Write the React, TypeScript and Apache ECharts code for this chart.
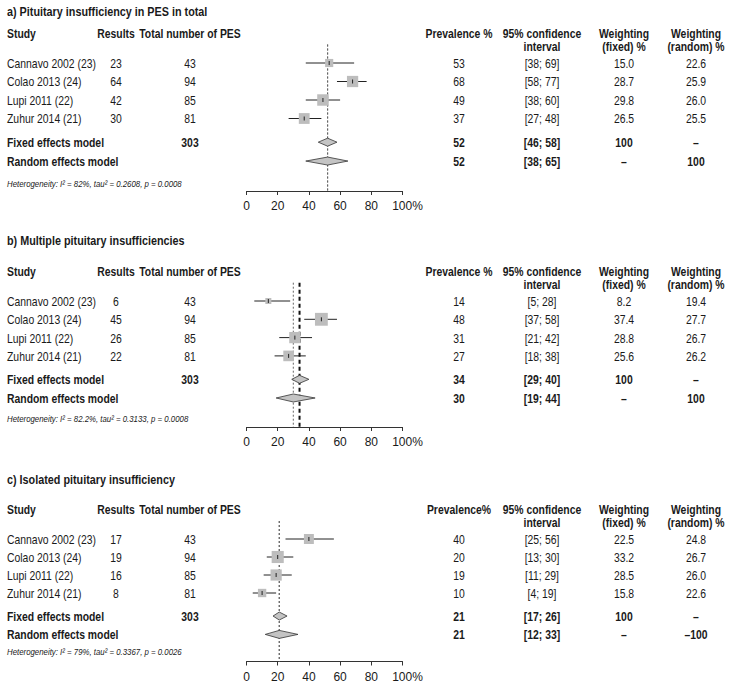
import React, { useEffect, useRef } from "react";
import * as echarts from "echarts";

// ---------- data ----------
const studies = ["Cannavo 2002 (23)", "Colao 2013 (24)", "Lupi 2011 (22)", "Zuhur 2014 (21)"];
const totals = [43, 94, 85, 81];
const totalSum = 303;
const tickValues = [0, 20, 40, 60, 80, 100];

// panel a
const titleA = "a) Pituitary insufficiency in PES in total";
const resultsA = [23, 64, 42, 30];
const prevA = [53, 68, 49, 37];
const lowA = [38, 58, 38, 27];
const highA = [69, 77, 60, 48];
const wFixedA = ["15.0", "28.7", "29.8", "26.5"];
const wRandomA = ["22.6", "25.9", "26.0", "25.5"];
const fixedA = [52, 46, 58];
const randomA = [52, 38, 65];
const randomWA = "100";
const hetA = "Heterogeneity: I² = 82%, tau² = 0.2608, p = 0.0008";
const prevHeadA = "Prevalence %";

// panel b
const titleB = "b) Multiple pituitary insufficiencies";
const resultsB = [6, 45, 26, 22];
const prevB = [14, 48, 31, 27];
const lowB = [5, 37, 21, 18];
const highB = [28, 58, 42, 38];
const wFixedB = ["8.2", "37.4", "28.8", "25.6"];
const wRandomB = ["19.4", "27.7", "26.7", "26.2"];
const fixedB = [34, 29, 40];
const randomB = [30, 19, 44];
const randomWB = "100";
const hetB = "Heterogeneity: I² = 82.2%, tau² = 0.3133, p = 0.0008";
const prevHeadB = "Prevalence %";

// panel c
const titleC = "c) Isolated pituitary insufficiency";
const resultsC = [17, 19, 16, 8];
const prevC = [40, 20, 19, 10];
const lowC = [25, 13, 11, 4];
const highC = [56, 30, 29, 19];
const wFixedC = ["22.5", "33.2", "28.5", "15.8"];
const wRandomC = ["24.8", "26.7", "26.0", "22.6"];
const fixedC = [21, 17, 26];
const randomC = [21, 12, 33];
const randomWC = "–100";
const hetC = "Heterogeneity: I² = 79%, tau² = 0.3367, p = 0.0026";
const prevHeadC = "Prevalence%";

// ---------- layout ----------
const FONT = '"Liberation Sans", Arial, sans-serif';
const FS = 13;
const NARROW = 0.8;
const X_LEFT = 246.5;
const X_RIGHT = 402.5;
const COL = { study: 7, results: 116, total: 190, prev: 459, ci: 542, wf: 624, wr: 696 };
const ROW_FIXED = 5.28;
const ROW_RANDOM = 6.3;

const layouts = [
  { titleY: 12, headY: 33, rowTop: 63, step: 18.5, axisY: 191, hetY: 184, boldFixedLine: false },
  { titleY: 241, headY: 271, rowTop: 301, step: 18.3, axisY: 427, hetY: 419, boldFixedLine: true },
  { titleY: 480, headY: 509, rowTop: 539, step: 18, axisY: 661.5, hetY: 652, boldFixedLine: false },
];

const panels = [
  { title: titleA, results: resultsA, prev: prevA, low: lowA, high: highA, wf: wFixedA, wr: wRandomA, fixed: fixedA, random: randomA, randomW: randomWA, het: hetA, prevHead: prevHeadA },
  { title: titleB, results: resultsB, prev: prevB, low: lowB, high: highB, wf: wFixedB, wr: wRandomB, fixed: fixedB, random: randomB, randomW: randomWB, het: hetB, prevHead: prevHeadB },
  { title: titleC, results: resultsC, prev: prevC, low: lowC, high: highC, wf: wFixedC, wr: wRandomC, fixed: fixedC, random: randomC, randomW: randomWC, het: hetC, prevHead: prevHeadC },
];

function txt(text: string, x: number, y: number, align: string, opts: { bold?: boolean; italic?: boolean; size?: number } = {}) {
  const size = opts.size ?? FS;
  const font = `${opts.italic ? "italic " : ""}${opts.bold ? "bold " : ""}${size}px ${FONT}`;
  return {
    type: "text",
    x,
    y,
    scaleX: NARROW,
    silent: true,
    style: { text, font, fill: "#1a1a1a", textAlign: align, textVerticalAlign: "middle" },
  };
}

function buildOption() {
  const grids: any[] = [];
  const xAxes: any[] = [];
  const yAxes: any[] = [];
  const series: any[] = [];
  const graphics: any[] = [];

  panels.forEach((p, i) => {
    const L = layouts[i];
    const top = L.rowTop - L.step;
    const height = L.axisY - top;
    const yMax = height / L.step;
    grids.push({ left: X_LEFT, width: X_RIGHT - X_LEFT, top, height, containLabel: false });
    xAxes.push({
      type: "value",
      gridIndex: i,
      position: "bottom",
      min: 0,
      max: 100,
      interval: 20,
      splitLine: { show: false },
      axisLine: { show: true, onZero: false, lineStyle: { color: "#333", width: 1 } },
      axisTick: { show: true, length: 4, lineStyle: { color: "#333" } },
      axisLabel: {
        fontFamily: FONT,
        fontSize: 12,
        color: "#1a1a1a",
        margin: 9,
        formatter: (v: number) => (v === 100 ? "{p|100%}" : String(v)),
        rich: { p: { fontFamily: FONT, fontSize: 12, color: "#1a1a1a", padding: [0, 0, 0, 10] } },
      },
      customValues: tickValues,
    });
    yAxes.push({ type: "value", gridIndex: i, min: 0, max: yMax, inverse: true, show: false });

    // vertical reference lines
    const vlines = [
      [p.random[0], 0],
      [p.fixed[0], 1],
    ];
    series.push({
      type: "custom",
      xAxisIndex: i,
      yAxisIndex: i,
      silent: true,
      data: vlines,
      renderItem: (_params: any, api: any) => {
        const v = api.value(0);
        const kind = api.value(1);
        const a = api.coord([v, 0]);
        const b = api.coord([v, yMax]);
        const bold = kind === 1 && L.boldFixedLine;
        return {
          type: "line",
          shape: { x1: a[0], y1: a[1], x2: b[0], y2: b[1] },
          style: bold
            ? { stroke: "#111", lineWidth: 2, lineDash: [4, 3] }
            : { stroke: "#666", lineWidth: 1, lineDash: [2, 2] },
        };
      },
    });

    // study squares + CI
    const studyData = p.prev.map((v, k) => [v, p.low[k], p.high[k], k + 1, parseFloat(p.wf[k])]);
    series.push({
      type: "custom",
      xAxisIndex: i,
      yAxisIndex: i,
      silent: true,
      data: studyData,
      renderItem: (_params: any, api: any) => {
        const est = api.coord([api.value(0), api.value(3)]);
        const lo = api.coord([api.value(1), api.value(3)]);
        const hi = api.coord([api.value(2), api.value(3)]);
        const s = 2.1 * Math.sqrt(api.value(4));
        return {
          type: "group",
          children: [
            { type: "line", shape: { x1: lo[0], y1: lo[1], x2: hi[0], y2: hi[1] }, style: { stroke: "#222", lineWidth: 1 } },
            { type: "rect", shape: { x: est[0] - s / 2, y: est[1] - s / 2, width: s, height: s }, style: { fill: "#bdbdbd" } },
            { type: "line", shape: { x1: est[0], y1: est[1] - 2, x2: est[0], y2: est[1] + 2 }, style: { stroke: "#222", lineWidth: 1 } },
          ],
        };
      },
    });

    // diamonds
    const diaData = [
      [p.fixed[0], p.fixed[1], p.fixed[2], ROW_FIXED],
      [p.random[0], p.random[1], p.random[2], ROW_RANDOM],
    ];
    series.push({
      type: "custom",
      xAxisIndex: i,
      yAxisIndex: i,
      silent: true,
      data: diaData,
      renderItem: (_params: any, api: any) => {
        const est = api.coord([api.value(0), api.value(3)]);
        const lo = api.coord([api.value(1), api.value(3)]);
        const hi = api.coord([api.value(2), api.value(3)]);
        const h = 4;
        return {
          type: "polygon",
          shape: { points: [[lo[0], lo[1]], [est[0], est[1] - h], [hi[0], hi[1]], [est[0], est[1] + h]] },
          style: { fill: "#c4c4c4", stroke: "#333", lineWidth: 0.8 },
        };
      },
    });

    // texts
    const rowY = (r: number) => L.rowTop + (r - 1) * L.step;
    const h1 = L.headY;
    const h2 = L.headY + 13;
    graphics.push(txt(p.title, COL.study, L.titleY, "left", { bold: true, size: 13.5 }));
    graphics.push(txt("Study", COL.study, h1, "left", { bold: true }));
    graphics.push(txt("Results", COL.results, h1, "center", { bold: true }));
    graphics.push(txt("Total number of PES", COL.total, h1, "center", { bold: true }));
    graphics.push(txt(p.prevHead, COL.prev, h1, "center", { bold: true }));
    graphics.push(txt("95% confidence", COL.ci, h1, "center", { bold: true }));
    graphics.push(txt("interval", COL.ci, h2, "center", { bold: true }));
    graphics.push(txt("Weighting", COL.wf, h1, "center", { bold: true }));
    graphics.push(txt("(fixed) %", COL.wf, h2, "center", { bold: true }));
    graphics.push(txt("Weighting", COL.wr, h1, "center", { bold: true }));
    graphics.push(txt("(random) %", COL.wr, h2, "center", { bold: true }));

    studies.forEach((name, k) => {
      const y = rowY(k + 1);
      graphics.push(txt(name, COL.study, y, "left"));
      graphics.push(txt(String(p.results[k]), COL.results, y, "center"));
      graphics.push(txt(String(totals[k]), COL.total, y, "center"));
      graphics.push(txt(String(p.prev[k]), COL.prev, y, "center"));
      graphics.push(txt(`[${p.low[k]}; ${p.high[k]}]`, COL.ci, y, "center"));
      graphics.push(txt(p.wf[k], COL.wf, y, "center"));
      graphics.push(txt(p.wr[k], COL.wr, y, "center"));
    });

    const yf = rowY(ROW_FIXED);
    graphics.push(txt("Fixed effects model", COL.study, yf, "left", { bold: true }));
    graphics.push(txt(String(totalSum), COL.total, yf, "center", { bold: true }));
    graphics.push(txt(String(p.fixed[0]), COL.prev, yf, "center", { bold: true }));
    graphics.push(txt(`[${p.fixed[1]}; ${p.fixed[2]}]`, COL.ci, yf, "center", { bold: true }));
    graphics.push(txt("100", COL.wf, yf, "center", { bold: true }));
    graphics.push(txt("–", COL.wr, yf, "center", { bold: true }));

    const yr = rowY(ROW_RANDOM);
    graphics.push(txt("Random effects model", COL.study, yr, "left", { bold: true }));
    graphics.push(txt(String(p.random[0]), COL.prev, yr, "center", { bold: true }));
    graphics.push(txt(`[${p.random[1]}; ${p.random[2]}]`, COL.ci, yr, "center", { bold: true }));
    graphics.push(txt("–", COL.wf, yr, "center", { bold: true }));
    graphics.push(txt(p.randomW, COL.wr, yr, "center", { bold: true }));

    graphics.push(txt(p.het, COL.study, L.hetY, "left", { italic: true, size: 9.8 }));
  });

  return {
    animation: false,
    backgroundColor: "#ffffff",
    grid: grids,
    xAxis: xAxes,
    yAxis: yAxes,
    series,
    graphic: { elements: graphics },
  };
}

export default function App() {
  const ref = useRef<HTMLDivElement>(null);
  useEffect(() => {
    if (!ref.current) return;
    const chart = echarts.init(ref.current, undefined, { renderer: "svg" });
    chart.setOption(buildOption() as any);
    return () => chart.dispose();
  }, []);
  return (
    <div
      ref={ref}
      style={{ position: "fixed", left: 0, top: 0, width: 729, height: 686, background: "#fff" }}
    />
  );
}
